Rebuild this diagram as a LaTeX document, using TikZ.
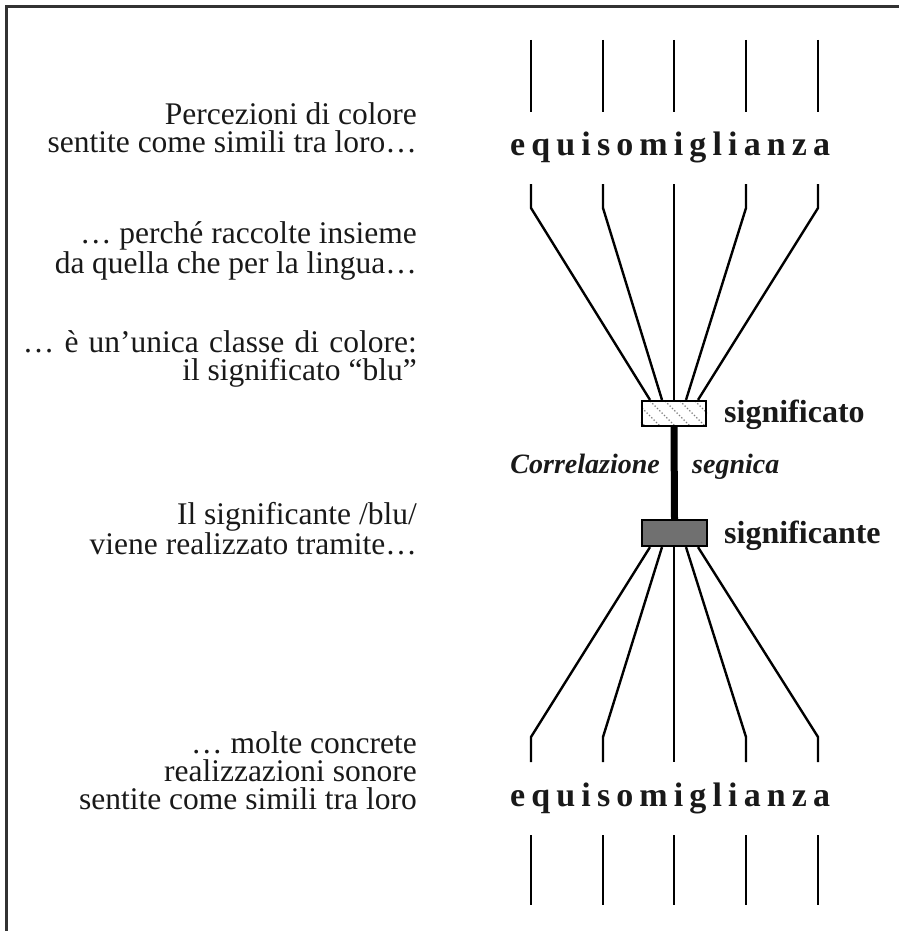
\documentclass[tikz,border=0pt]{standalone}
\usepackage{fontspec}
\setmainfont{Liberation Serif}
\newfontfamily\eqfont[LetterSpace=18]{Liberation Serif}
\usetikzlibrary{calc}
\definecolor{framecol}{RGB}{50,50,50}
\definecolor{darkbox}{RGB}{112,112,112}
\newcommand{\wl}[2]{\makebox[#1pt][s]{#2}}
\begin{document}
\begin{tikzpicture}[x=1pt,y=-1pt,
  ln/.style={line width=2.4pt, black},
  lt/.style={font=\fontsize{31.5}{28}\selectfont, align=right, anchor=base east, inner sep=0pt, text=black!90},
  eq/.style={font=\fontsize{34}{34}\eqfont\bfseries, anchor=base west, inner sep=0pt, text=black!90},
  lab/.style={font=\fontsize{32}{32}\selectfont\bfseries, anchor=base west, inner sep=0pt, text=black!90},
  corr/.style={font=\fontsize{28}{28}\selectfont\bfseries\itshape, inner sep=0pt, text=black!90},
  boxst/.style={draw, line width=2.2pt, inner sep=0pt}
]
\useasboundingbox (0,0) rectangle (899,931);
% frame
\draw[line width=3pt, framecol] (6,931) -- (6,7) -- (899,7);

% left texts (anchor at last-line baseline)
\node[lt] (p1) at (417,152) {Percezioni di colore\\sentite come simili tra loro…};
\node[lt] (p2) at (417,273) {… perché raccolte insieme\\\wl{362}{da quella che per la lingua…}};
\node[lt] (p3) at (417,380) {\wl{394}{… è un’unica classe di colore:}\\il significato “blu”};
\node[lt] (p4) at (417,554) {Il significante /blu/\\viene realizzato tramite…};
\node[lt] (p5) at (417,809) {… molte concrete\\realizzazioni sonore\\sentite come simili tra loro};

% equisomiglianza labels
\node[eq] (eqtop) at (510,155) {equisomiglianza};
\node[eq] (eqbot) at (510,806) {equisomiglianza};

% boxes
\node[boxst, fill=white, minimum width=64pt, minimum height=25pt] (sto) at (674,413.5) {};
\node[boxst, fill=darkbox, minimum width=65pt, minimum height=26pt] (sante) at (674.5,533) {};

% hatching of significato box
\begin{scope}
  \clip (sto.south west) rectangle (sto.north east);
  \foreach \h in {605,620,...,710}
    \draw[gray, dotted, line width=1.3pt] (\h,401) -- ++(25,25);
\end{scope}
\node[boxst, minimum width=64pt, minimum height=25pt] (stob) at (sto) {};

% correlation bar
\draw[line width=7pt] (sto.south) -- (sante.north);

% labels
\node[lab] (lsto) at (724,422) {significato};
\node[lab] (lsante) at (724,543) {significante};
\node[corr, anchor=base east] (corr1) at (660,473) {Correlazione};
\node[corr, anchor=base west] (corr2) at (692,473) {segnica};

% fans
\foreach \x [count=\i] in {531,603,674,746,818}{
  \coordinate (ta\i) at (\x,40);
  \coordinate (tb\i) at (\x,112);
  \coordinate (tc\i) at (\x,184);
  \coordinate (td\i) at (\x,208);
  \coordinate (ba\i) at (\x,737);
  \coordinate (bb\i) at (\x,762);
  \coordinate (bc\i) at (\x,835);
  \coordinate (bd\i) at (\x,905);
}
\foreach \o [count=\i] in {-24,-12,0,12,24}{
  \coordinate (se\i) at ($(sto.north)+(\o,0)$);
  \coordinate (sa\i) at ($(sante.south)+(\o-0.5,0)$);
}
\foreach \i in {1,...,5}{
  \draw[ln] (ta\i) -- (tb\i);
  \draw[ln] (tc\i) -- (td\i) -- (se\i);
  \draw[ln] (sa\i) -- (ba\i) -- (bb\i);
  \draw[ln] (bc\i) -- (bd\i);
}
\end{tikzpicture}
\end{document}
